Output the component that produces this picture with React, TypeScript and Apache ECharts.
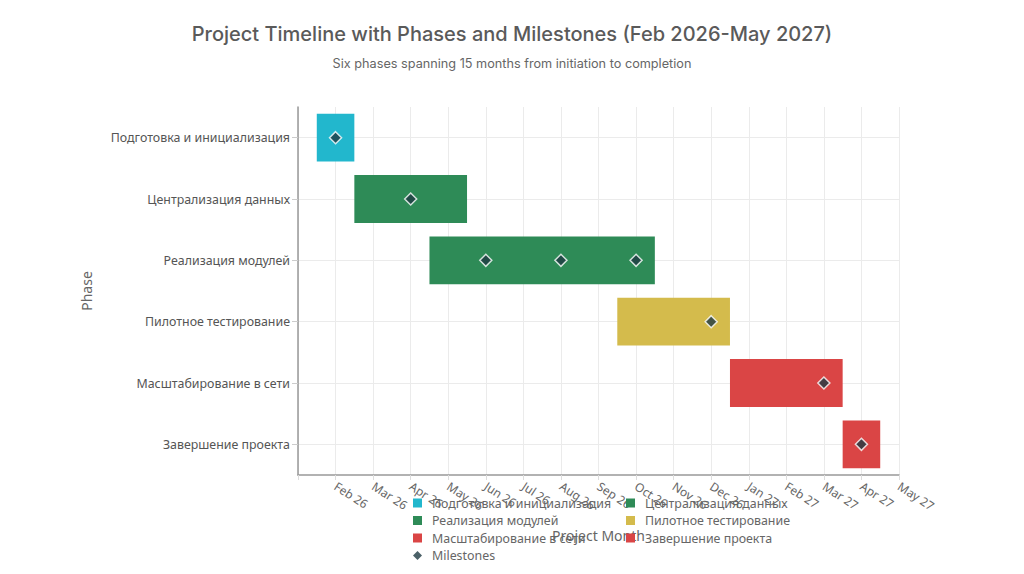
import React, { useEffect, useRef } from "react";
import * as echarts from "echarts";

const phases = [
  "Подготовка и инициализация",
  "Централизация данных",
  "Реализация модулей",
  "Пилотное тестирование",
  "Масштабирование в сети",
  "Завершение проекта",
];
// month index: 0 = Feb 2026
const phaseStart = [-0.5, 0.5, 2.5, 7.5, 10.5, 13.5];
const phaseEnd = [0.5, 3.5, 8.5, 10.5, 13.5, 14.5];
const phaseColors = ["#22b7cd", "#2e8b57", "#2e8b57", "#d4bb4c", "#da4545", "#da4545"];

const milestoneMonth = [0, 2, 4, 6, 8, 10, 13, 14];
const milestonePhase = [0, 1, 2, 2, 2, 3, 4, 5];

const monthLabels = [
  "Feb 26", "Mar 26", "Apr 26", "May 26", "Jun 26", "Jul 26", "Aug 26", "Sep 26",
  "Oct 26", "Nov 26", "Dec 26", "Jan 27", "Feb 27", "Mar 27", "Apr 27", "May 27",
];

const FONT = "Noto Sans";

export default function App() {
  const ref = useRef<HTMLDivElement>(null);
  useEffect(() => {
    if (!ref.current) return;
    const chart = echarts.init(ref.current, null, { renderer: "svg" });

    const phaseSeries = phases.map((name, i) => ({
      name,
      type: "custom",
      itemStyle: { color: phaseColors[i] },
      encode: { x: [1, 2], y: 0 },
      data: [[i, phaseStart[i], phaseEnd[i]]],
      z: 2,
      renderItem: (params: any, api: any) => {
        const cat = api.value(0);
        const p0 = api.coord([api.value(1), cat]);
        const p1 = api.coord([api.value(2), cat]);
        const h = api.size([0, 1])[1] * 0.78;
        return {
          type: "rect",
          shape: { x: p0[0], y: p0[1] - h / 2, width: p1[0] - p0[0], height: h },
          style: { fill: api.visual("color") },
        };
      },
    }));

    const legendText = {
      fontFamily: FONT,
      fontSize: 12.4,
      color: "#666666",
      lineHeight: 14,
      padding: [0, 0, 0, 5],
    };

    const option: any = {
      animation: false,
      backgroundColor: "#ffffff",
      textStyle: { fontFamily: FONT },
      title: [
        {
          text: "Project Timeline with Phases and Milestones (Feb 2026-May 2027)",
          left: "center",
          top: 19,
          textStyle: { fontFamily: "Inter", fontSize: 20, fontWeight: 500, color: "#5a5a5a" },
        },
        {
          text: "Six phases spanning 15 months from initiation to completion",
          left: "center",
          top: 52,
          textStyle: { fontFamily: "Inter", fontSize: 12.7, fontWeight: "normal", color: "#666666" },
        },
      ],
      grid: { left: 298, right: 125, top: 107, bottom: 99, containLabel: false },
      xAxis: {
        type: "value",
        min: -1,
        max: 15,
        interval: 1,
        name: "Project Month",
        nameLocation: "middle",
        nameGap: 53,
        nameTextStyle: { fontFamily: FONT, fontSize: 14, color: "#666666" },
        axisLine: { show: true, lineStyle: { color: "#999999", width: 1.5 } },
        axisTick: { show: true, length: 5, lineStyle: { color: "#dddddd" } },
        splitLine: { show: true, lineStyle: { color: "#ebebeb" } },
        axisLabel: {
          rotate: -33,
          fontFamily: FONT,
          fontSize: 12,
          color: "#666666",
          margin: 10,
          formatter: (v: number) => (v >= 0 && v < monthLabels.length ? monthLabels[v] : ""),
        },
      },
      yAxis: {
        type: "category",
        inverse: true,
        data: phases,
        name: "Phase",
        nameLocation: "middle",
        nameGap: 205,
        nameTextStyle: { fontFamily: FONT, fontSize: 14, color: "#666666" },
        axisLine: { show: true, onZero: false, lineStyle: { color: "#999999", width: 1.5 } },
        axisTick: { show: true, alignWithLabel: true, length: 6, lineStyle: { color: "#cccccc" } },
        splitLine: { show: true, alignWithLabel: true, lineStyle: { color: "#ebebeb" } },
        axisLabel: { fontFamily: FONT, fontSize: 12.4, color: "#555555", margin: 8 },
      },
      legend: [
        {
          orient: "vertical",
          left: 413,
          top: 496,
          padding: 0,
          itemWidth: 9,
          itemHeight: 9,
          itemGap: 3.5,
          icon: "rect",
          textStyle: legendText,
          data: [
            phases[0],
            phases[2],
            phases[4],
            { name: "Milestones", icon: "diamond", itemStyle: { borderWidth: 0, color: "#1e3a42" } },
          ],
        },
        {
          orient: "vertical",
          left: 626,
          top: 496,
          padding: 0,
          itemWidth: 9,
          itemHeight: 9,
          itemGap: 3.5,
          icon: "rect",
          textStyle: legendText,
          data: [phases[1], phases[3], phases[5]],
        },
      ],
      series: [
        ...phaseSeries,
        {
          name: "Milestones",
          type: "scatter",
          symbol: "diamond",
          symbolSize: 12,
          z: 5,
          itemStyle: { color: "#1e3a42", borderColor: "#ffffff", borderWidth: 1.5 },
          data: milestoneMonth.map((m, i) => [m, phases[milestonePhase[i]]]),
        },
      ],
    };
    chart.setOption(option);
    return () => chart.dispose();
  }, []);
  return (
    <div
      ref={ref}
      style={{ position: "fixed", left: 0, top: 0, width: 1024, height: 574, background: "#fff" }}
    />
  );
}
